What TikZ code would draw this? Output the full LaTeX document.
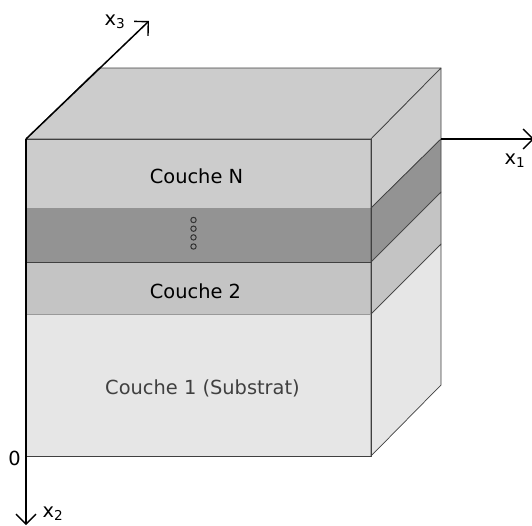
\documentclass[tikz,border=0pt]{standalone}
\usepackage{fontspec}
\setmainfont{DejaVu Sans}
\usetikzlibrary{arrows.meta}
\definecolor{layerN}{HTML}{CCCCCC}
\definecolor{layerdots}{HTML}{939393}
\definecolor{layertwo}{HTML}{C4C4C4}
\definecolor{layersub}{HTML}{E6E6E6}
\begin{document}
\begin{tikzpicture}[x=1pt,y=-1pt,
  layer/.style={draw=black!75,line width=.7pt,line join=round},
  axis/.style={draw=black,line width=1.5pt,-{Straight Barb[length=10pt,width=20pt,line width=1.4pt]}},
  label node/.style={font=\fontsize{19.4}{23}\selectfont,inner sep=0pt},
  dot node/.style={circle,draw=black!80,line width=1pt,inner sep=0pt,minimum size=5.4pt}]
  \useasboundingbox (0,0) rectangle (532,525);

  % corners of the front face, top to bottom
  \coordinate (a1) at (26,139);
  \coordinate (b1) at (371,139);
  \coordinate (a2) at (26,208);
  \coordinate (b2) at (371,208);
  \coordinate (a3) at (26,262);
  \coordinate (b3) at (371,262);
  \coordinate (a4) at (26,314);
  \coordinate (b4) at (371,314);
  \coordinate (a5) at (26,456);
  \coordinate (b5) at (371,456);
  % back edge
  \coordinate (c0) at (99,68);
  \coordinate (c1) at (441,68);
  \coordinate (c2) at (441,139);
  \coordinate (c3) at (441,192);
  \coordinate (c4) at (441,244);
  \coordinate (c5) at (441,385);
  % axis ends
  \coordinate (x1) at (534,139);
  \coordinate (x2) at (26,525);
  \coordinate (x3) at (149,21);

  % front
  \fill[layersub] (a4) rectangle (b5);
  \fill[layertwo] (a3) rectangle (b4);
  \fill[layerdots] (a2) rectangle (b3);
  \fill[layerN] (a1) rectangle (b2);
  % top and side
  \path[layer,fill=layerN] (a1) -- (c0) -- (c1) -- (b1) -- cycle;
  \path[layer,fill=layerN] (b1) -- (c1) -- (c2) -- (b2) -- cycle;
  \path[layer,fill=layerdots] (b2) -- (c2) -- (c3) -- (b3) -- cycle;
  \path[layer,fill=layertwo] (b3) -- (c3) -- (c4) -- (b4) -- cycle;
  \path[layer,fill=layersub] (b4) -- (c4) -- (c5) -- (b5) -- cycle;

  \draw[layer] (a1) -- (b1) -- (b5) -- (a5);
  \draw[layer] (a3) -- (b3);
  \draw[draw=black!40,line width=.5pt] (a4) -- (b4);

  \node[label node] (coucheN) at (196.5,176.5) {Couche N};
  \node[label node] (couche2) at (195.5,291.5) {Couche 2};
  \node[label node,text=black!75] (couche1) at (202.5,388) {Couche 1 (Substrat)};

  \node[dot node] (d1) at (193.5,220) {};
  \node[dot node] (d2) at (193.5,228.7) {};
  \node[dot node] (d3) at (193.5,237.4) {};
  \node[dot node] (d4) at (193.5,246.5) {};

  \draw[axis] (c2) -- (x1);
  \draw[axis] (a1) -- (x2);
  \draw[axis] (a1) -- (x3);

  \node[label node] (origin) at (14.5,458) {0};
  \node[label node] (labelx1) at (515,161) {x\textsubscript{1}};
  \node[label node] (labelx2) at (53,513.5) {x\textsubscript{2}};
  \node[label node] (labelx3) at (115,21.5) {x\textsubscript{3}};
\end{tikzpicture}
\end{document}
